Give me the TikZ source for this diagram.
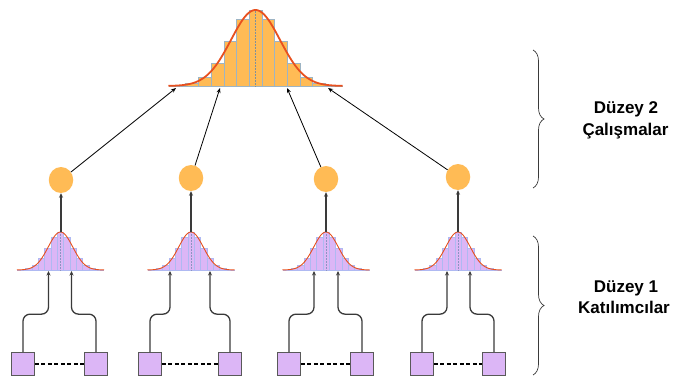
\documentclass[tikz,border=0pt]{standalone}
\usepackage{fontspec}
\setmainfont{Liberation Sans}
\usetikzlibrary{arrows.meta,decorations.pathreplacing,calc,shapes.geometric}
\definecolor{orfill}{HTML}{FFBB55}
\definecolor{curvecol}{HTML}{E8501E}
\definecolor{baredge}{HTML}{9DB4C4}
\definecolor{purp}{HTML}{DCB6F6}
\definecolor{purpedge}{HTML}{AFB9F2}
\definecolor{lineg}{HTML}{3A3A3A}
\newcommand\drawdist[6]{%
  \begin{scope}[shift={(#1,#2)},scale=#3]
    \foreach \k in {-5,...,5}{%
      \pgfmathsetmacro\hh{76*exp(-(\k*12.7)*(\k*12.7)/1200)}
      \filldraw[fill=#4,draw=#5,line width=0.5pt] ({\k*12.7-6.35},0) rectangle ({\k*12.7+6.35},-\hh);
    }
    \draw[#5,line width=0.6pt] (-87,0) -- (87,0);
    \draw[#5!80!black,densely dotted,line width=0.5pt] (0,0) -- (0,-76);
    \draw[curvecol,line width=#6] plot[domain=-87:87,samples=90,smooth] (\x,{-76*exp(-\x*\x/1200)});
  \end{scope}}
\tikzset{
  dot/.style={ellipse,fill=orfill,minimum width=24.5pt,minimum height=26pt,inner sep=0pt},
  sq/.style={rectangle,draw=gray!70!black,fill=purp,minimum size=23pt,inner sep=0pt,line width=0.7pt},
  conn/.style={draw=lineg,line width=1.3pt,-{Stealth[length=4.5pt,width=4pt]}},
  uparr/.style={draw=black,line width=0.8pt,-{Stealth[length=5pt,width=4pt]}},
  dashline/.style={draw=black,line width=1.7pt,dash pattern=on 4pt off 2.5pt},
  bracestyle/.style={draw=lineg,line width=0.7pt,decorate,decoration={brace,amplitude=11pt}},
  lbl/.style={anchor=base,font=\bfseries\fontsize{17}{22}\selectfont,inner sep=0pt}
}
\begin{document}
\begin{tikzpicture}[x=1pt,y=-1pt]
\useasboundingbox (0,0) rectangle (677,378);
% top distribution
\drawdist{255.5}{86}{1}{orfill}{baredge}{1.8pt}
% small distributions
\drawdist{60.5}{270}{0.5}{purp}{purpedge}{0.9pt}
\drawdist{191}{270}{0.5}{purp}{purpedge}{0.9pt}
\drawdist{326}{270}{0.5}{purp}{purpedge}{0.9pt}
\drawdist{458}{270}{0.5}{purp}{purpedge}{0.9pt}
% circles
\node[dot] (c1) at (61,180) {};
\node[dot] (c2) at (191,178) {};
\node[dot] (c3) at (326,179) {};
\node[dot] (c4) at (458,177) {};
% targets on top distribution
\coordinate (t1) at (176,88);
\coordinate (t2) at (220,88);
\coordinate (t3) at (287,88);
\coordinate (t4) at (328,88);
\draw[uparr] (c1) -- (t1);
\draw[uparr] (c2) -- (t2);
\draw[uparr] (c3) -- (t3);
\draw[uparr] (c4) -- (t4);
% peaks of small distributions
\coordinate (p1) at (61,232);
\coordinate (p2) at (191,232);
\coordinate (p3) at (326,232);
\coordinate (p4) at (458,232);
\draw[conn] (p1) -- (c1);
\draw[conn] (p2) -- (c2);
\draw[conn] (p3) -- (c3);
\draw[conn] (p4) -- (c4);
% squares
\node[sq] (s1a) at (23,364) {};
\node[sq] (s1b) at (96,364) {};
\node[sq] (s2a) at (150,364) {};
\node[sq] (s2b) at (230,364) {};
\node[sq] (s3a) at (289,364) {};
\node[sq] (s3b) at (362,364) {};
\node[sq] (s4a) at (422,364) {};
\node[sq] (s4b) at (494,364) {};
\draw[dashline] (s1a) -- (s1b);
\draw[dashline] (s2a) -- (s2b);
\draw[dashline] (s3a) -- (s3b);
\draw[dashline] (s4a) -- (s4b);
% arrow ends at small distribution bases
\coordinate (a1a) at (48.5,271);
\coordinate (a1b) at (71.5,271);
\coordinate (a2a) at (170,271);
\coordinate (a2b) at (210,271);
\coordinate (a3a) at (314,271);
\coordinate (a3b) at (338,271);
\coordinate (a4a) at (447,271);
\coordinate (a4b) at (470,271);
\foreach \s/\a in {s1a/a1a,s1b/a1b,s2a/a2a,s2b/a2b,s3a/a3a,s3b/a3b,s4a/a4a,s4b/a4b}{
  \draw[conn,rounded corners=7pt] (\s.north) -- ++(0,-38) -| (\a);
}
% braces
\coordinate (b2t) at (533,50);
\coordinate (b2b) at (533,188);
\coordinate (b1t) at (533,236);
\coordinate (b1b) at (533,375);
\draw[bracestyle] (b2t) -- (b2b);
\draw[bracestyle] (b1t) -- (b1b);
% labels
\node[lbl] (l2a) at (626,113) {Düzey 2};
\node[lbl] (l2b) at (625.5,135) {Çalışmalar};
\node[lbl] (l1a) at (626,292.5) {Düzey 1};
\node[lbl] (l1b) at (624,313.5) {Katılımcılar};
\end{tikzpicture}
\end{document}
